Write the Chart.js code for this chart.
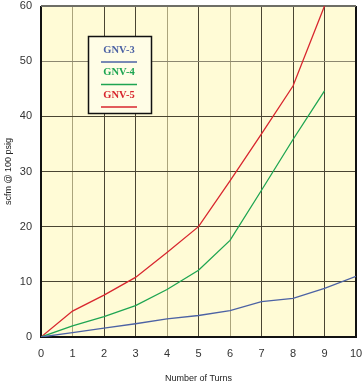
<!DOCTYPE html>
<html>
<head>
<meta charset="utf-8">
<script src="https://cdn.jsdelivr.net/npm/chart.js@4"></script>
<style>
  html, body { margin: 0; padding: 0; background: #fff; }
  #wrap { width: 362px; height: 384px; }
</style>
</head>
<body>
<div id="wrap"><canvas id="chart" width="362" height="384"></canvas></div>
<script>
// number of turns and flow (scfm @ 100 psig)
const turns = [0, 1, 2, 3, 4, 5, 6, 7, 8, 9, 10];
const gnv3 = [0, 0.8, 1.6, 2.4, 3.3, 3.9, 4.8, 6.4, 7.0, 8.8, 11.0];
const gnv4 = [0, 2.0, 3.7, 5.7, 8.6, 12.1, 17.5, 26.6, 35.8, 44.6];
const gnv5 = [0, 4.7, 7.6, 10.8, 15.3, 20.0, 28.3, 36.8, 45.5, 60.0];

const seriesNames = ['GNV-3', 'GNV-4', 'GNV-5'];
const seriesColors = ['#4c62a4', '#1ea552', '#d8262e'];

const xTicks = turns;
const yTicks = [0, 10, 20, 30, 40, 50, 60];

const toPoints = (vals) => vals.map((v, i) => ({ x: turns[i], y: v }));

// plot background, frame and the boxed legend
const chartDecor = {
    id: 'chartDecor',
    beforeDraw(chart) {
        const { ctx, chartArea: a } = chart;
        ctx.save();
        ctx.fillStyle = '#fffbd6';
        ctx.fillRect(a.left, a.top, a.right - a.left, a.bottom - a.top);
        ctx.restore();
    },
    beforeDatasetsDraw(chart) {
        const { ctx, chartArea: a } = chart;
        ctx.save();
        ctx.lineWidth = 2;
        ctx.strokeStyle = '#111';
        ctx.beginPath();
        ctx.moveTo(a.left, a.top);
        ctx.lineTo(a.left, a.bottom);
        ctx.lineTo(a.right, a.bottom);
        ctx.lineTo(a.right, a.top);
        ctx.stroke();
        ctx.strokeStyle = '#6e6e66';
        ctx.beginPath();
        ctx.moveTo(a.left, a.top);
        ctx.lineTo(a.right, a.top);
        ctx.stroke();
        ctx.restore();
    },
    afterDraw(chart) {
        const { ctx } = chart;
        const box = { x: 88.5, y: 36.5, w: 63, h: 77 };
        ctx.save();
        ctx.fillStyle = '#fffde6';
        ctx.fillRect(box.x, box.y, box.w, box.h);
        ctx.lineWidth = 1.5;
        ctx.strokeStyle = '#111';
        ctx.strokeRect(box.x, box.y, box.w, box.h);
        ctx.font = 'bold 10.5px "Liberation Serif", serif';
        ctx.textAlign = 'center';
        ctx.textBaseline = 'middle';
        const cx = box.x + box.w / 2 - 1;
        seriesNames.forEach((name, i) => {
            const ty = 50 + i * 22.5;
            ctx.fillStyle = seriesColors[i];
            ctx.fillText(name, cx, ty);
            ctx.strokeStyle = seriesColors[i];
            ctx.lineWidth = 1.3;
            ctx.beginPath();
            ctx.moveTo(cx - 18, ty + 12);
            ctx.lineTo(cx + 18, ty + 12);
            ctx.stroke();
        });
        ctx.restore();
    }
};

const lightX = [1, 4, 6];

new Chart(document.getElementById('chart'), {
    type: 'line',
    data: {
        datasets: [gnv3, gnv4, gnv5].map((vals, i) => ({
            label: seriesNames[i],
            data: toPoints(vals),
            borderColor: seriesColors[i],
            borderWidth: 1.3,
            pointRadius: 0,
            tension: 0,
            fill: false
        }))
    },
    options: {
        responsive: false,
        animation: false,
        layout: { padding: { top: 6, right: 6, left: 0, bottom: 0 } },
        plugins: {
            legend: { display: false },
            tooltip: { enabled: false }
        },
        scales: {
            x: {
                type: 'linear',
                min: 0,
                max: 10,
                afterBuildTicks: (s) => { s.ticks = xTicks.map(v => ({ value: v })); },
                afterFit: (s) => { s.height = 47; s.paddingLeft = 0; s.paddingRight = 0; },
                border: { display: false },
                grid: {
                    drawTicks: false,
                    lineWidth: 1,
                    color: (c) => lightX.includes(c.tick && c.tick.value) ? '#aba47c' : '#4a4532'
                },
                ticks: {
                    padding: 10,
                    color: '#333',
                    font: { family: '"Liberation Sans", Arial, sans-serif', size: 11 }
                },
                title: {
                    display: true,
                    text: 'Number of Turns',
                    color: '#222',
                    padding: { top: 7, bottom: 0 },
                    font: { family: '"Liberation Sans", Arial, sans-serif', size: 9 }
                }
            },
            y: {
                min: 0,
                max: 60,
                afterBuildTicks: (s) => { s.ticks = yTicks.map(v => ({ value: v })); },
                afterFit: (s) => { s.width = 41; s.paddingTop = 0; s.paddingBottom = 0; },
                border: { display: false },
                grid: {
                    drawTicks: false,
                    lineWidth: 1,
                    color: (c) => (c.tick && c.tick.value === 50) ? '#8c8770' : '#4a4532'
                },
                ticks: {
                    padding: 9,
                    color: '#333',
                    font: { family: '"Liberation Sans", Arial, sans-serif', size: 11 }
                },
                title: {
                    display: true,
                    text: 'scfm @ 100 psig',
                    color: '#222',
                    padding: { top: 3, bottom: 4 },
                    font: { family: '"Liberation Sans", Arial, sans-serif', size: 9 }
                }
            }
        }
    },
    plugins: [chartDecor]
});
</script>
</body>
</html>
